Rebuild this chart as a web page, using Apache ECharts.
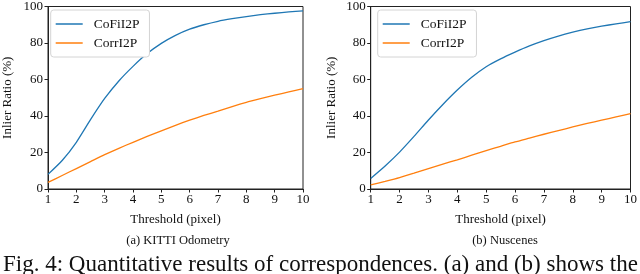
<!DOCTYPE html>
<html><head><meta charset="utf-8">
<script src="https://cdn.jsdelivr.net/npm/echarts@6/dist/echarts.min.js"></script>
<style>html,body{margin:0;padding:0;background:#fff}#c{width:640px;height:274px}</style>
</head><body><div id="c"></div>
<script>
const thresholds = [1,1.5,2,2.5,3,3.5,4,4.5,5,5.5,6,6.5,7,7.5,8,8.5,9,9.5,10];
const kittiCoFi = [8,15.6,25.6,38,49.6,59.2,67.2,74.2,79.8,84.2,87.6,90,91.9,93.3,94.5,95.5,96.3,97,97.6];
const kittiCorr = [3.6,7.4,11.2,15,18.8,22.3,25.6,28.8,31.9,34.9,37.7,40.3,42.7,45.2,47.5,49.5,51.4,53.2,55];
const nusCoFi = [5.8,12.6,20.2,28.8,37.8,46.3,54.2,61.2,67,71.3,75,78.4,81.3,83.8,85.9,87.7,89.2,90.5,91.7];
const nusCorr = [2.2,4.2,6.3,8.7,11.2,13.6,16,18.5,21,23.4,25.8,27.9,30,32,34,35.9,37.7,39.5,41.3];
const yTicks = [0,20,40,60,80,100];
const seriesNames = ['CoFiI2P','CorrI2P'];
const captions = ['(a) KITTI Odometry','(b) Nuscenes'];
const figText = 'Fig. 4: Quantitative results of correspondences. (a) and (b) shows the';

const F = '"Liberation Serif", "DejaVu Serif", serif';
const blue = '#1f77b4', orange = '#ff7f0e';
const pair = (xs, ys) => xs.map((x,i)=>[x, ys[i]]);
const grids = [
  {left:44.7, right:337, top:4, bottom:85, show:true, borderColor:'#222', borderWidth:1},
  {left:370.7, right:9, top:4, bottom:85, show:true, borderColor:'#222', borderWidth:1}
];
const xAxis = grids.map((g,i)=>({
  type:'value', gridIndex:i, min:1, max:10, interval:1,
  name:'Threshold (pixel)', nameLocation:'middle', nameGap:24,
  nameTextStyle:{fontFamily:F, fontSize:13, color:'#111'},
  axisLine:{lineStyle:{color:'#222', width:1}},
  axisTick:{length:3.5, lineStyle:{color:'#222'}},
  axisLabel:{fontFamily:F, fontSize:13, color:'#111', margin:4},
  splitLine:{show:false}
}));
const yAxis = grids.map((g,i)=>({
  type:'value', gridIndex:i, min:yTicks[0], max:yTicks[yTicks.length-1], interval:yTicks[1]-yTicks[0],
  name:'Inlier Ratio (%)', nameLocation:'middle', nameGap: i===0?34:33,
  nameTextStyle:{fontFamily:F, fontSize:13, color:'#111'},
  axisLine:{show:true, lineStyle:{color:'#222', width:1}},
  axisTick:{show:true, length:3.5, lineStyle:{color:'#222'}},
  axisLabel:{fontFamily:F, fontSize:13, color:'#111', margin:5},
  splitLine:{show:false}
}));
const mk = (name, data, color, i) => ({
  name, type:'line', xAxisIndex:i, yAxisIndex:i, data, smooth:0.2, showSymbol:false,
  lineStyle:{color, width:1.3}, itemStyle:{color}
});
const series = [
  mk(seriesNames[0], pair(thresholds,kittiCoFi), blue, 0),
  mk(seriesNames[1], pair(thresholds,kittiCorr), orange, 0),
  mk(seriesNames[0], pair(thresholds,nusCoFi), blue, 1),
  mk(seriesNames[1], pair(thresholds,nusCorr), orange, 1)
];
const legendBase = {
  orient:'vertical', top:10, data:seriesNames, icon:'rect', itemWidth:27, itemHeight:1.5,
  itemGap:5, borderColor:'#d4d4d4', borderWidth:1, borderRadius:3, padding:[7,10,7,5],
  textStyle:{fontFamily:F, fontSize:13.5, color:'#111', padding:[0,0,0,6]},
  selectedMode:false, backgroundColor:'#fff'
};
const chart = echarts.init(document.getElementById('c'), null, {renderer:'canvas'});
chart.setOption({
  animation:false,
  grid:grids, xAxis, yAxis, series,
  legend:[Object.assign({left:50.7}, legendBase), Object.assign({left:377.7}, legendBase)],
  title:[
    {text:captions[0], left:173, top:229, textAlign:'center', textStyle:{fontFamily:F, fontSize:12.5, fontWeight:'normal', color:'#111'}},
    {text:captions[1], left:500, top:229, textAlign:'center', textStyle:{fontFamily:F, fontSize:12.5, fontWeight:'normal', color:'#111'}},
    {text:figText, left:3, top:253, padding:0, textStyle:{fontFamily:F, fontSize:23, fontWeight:'normal', color:'#111'}}
  ]
});
</script></body></html>
